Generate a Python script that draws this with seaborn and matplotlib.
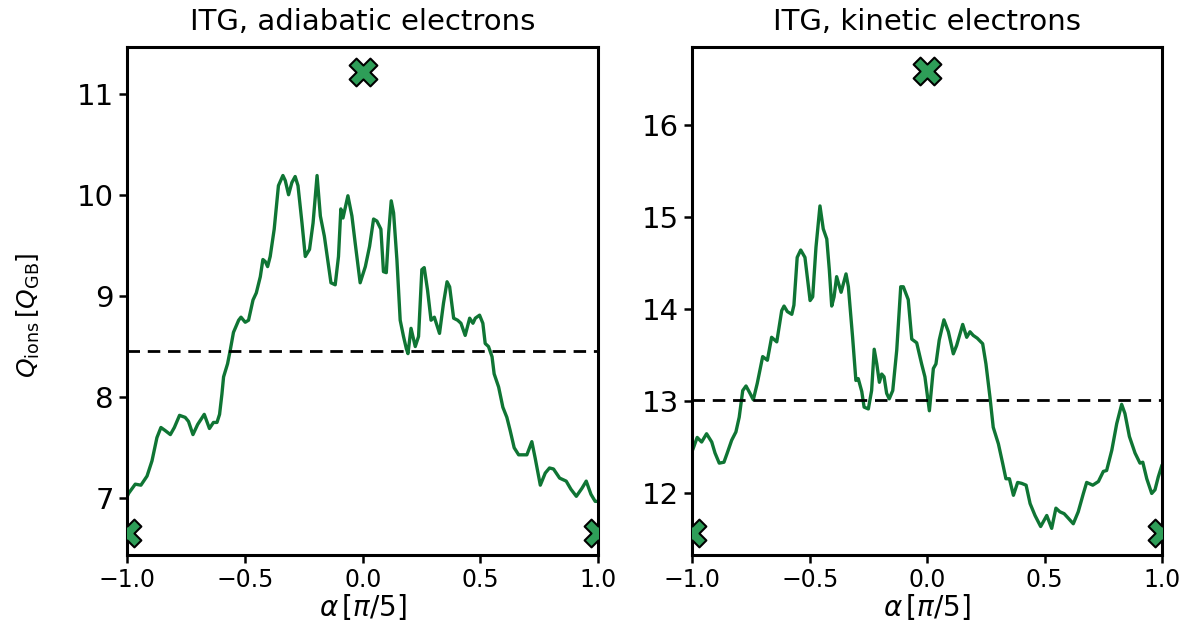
import matplotlib
matplotlib.use("Agg")
import matplotlib.pyplot as plt
import numpy as np
import pandas as pd
import seaborn as sns

# Ion heat flux vs. shift angle alpha (in units of pi/5)
alpha_adiabatic = [
    -1.000, -0.994, -0.966, -0.942, -0.916, -0.895, -0.874, -0.857, -0.839, -0.817,
    -0.800, -0.778, -0.754, -0.740, -0.721, -0.701, -0.673, -0.651, -0.634, -0.619,
    -0.608, -0.598, -0.591, -0.574, -0.563, -0.549, -0.527, -0.517, -0.499, -0.485,
    -0.466, -0.452, -0.435, -0.424, -0.414, -0.404, -0.393, -0.376, -0.358, -0.339,
    -0.329, -0.315, -0.301, -0.287, -0.275, -0.258, -0.244, -0.226, -0.211, -0.194,
    -0.180, -0.163, -0.149, -0.135, -0.117, -0.103, -0.093, -0.084, -0.063, -0.046,
    -0.032, -0.011, 0.011, 0.029, 0.046, 0.060, 0.077, 0.088, 0.100, 0.110,
    0.121, 0.131, 0.145, 0.159, 0.173, 0.185, 0.192, 0.205, 0.223, 0.237,
    0.251, 0.261, 0.275, 0.290, 0.304, 0.326, 0.343, 0.358, 0.369, 0.386,
    0.403, 0.417, 0.435, 0.454, 0.468, 0.478, 0.496, 0.510, 0.520, 0.534,
    0.549, 0.558, 0.577, 0.595, 0.612, 0.626, 0.643, 0.662, 0.683, 0.697,
    0.718, 0.732, 0.754, 0.775, 0.793, 0.810, 0.836, 0.864, 0.884, 0.907,
    0.931, 0.949, 0.969, 0.987, 1.000,
]
q_adiabatic = [
    7.02, 7.05, 7.14, 7.13, 7.22, 7.37, 7.60, 7.70, 7.67, 7.63,
    7.70, 7.82, 7.80, 7.76, 7.63, 7.73, 7.83, 7.69, 7.75, 7.75,
    7.83, 8.03, 8.20, 8.33, 8.46, 8.64, 8.76, 8.79, 8.74, 8.76,
    8.96, 9.03, 9.19, 9.36, 9.34, 9.29, 9.39, 9.66, 10.09, 10.19,
    10.14, 10.00, 10.12, 10.18, 10.09, 9.72, 9.39, 9.46, 9.72, 10.19,
    9.79, 9.59, 9.36, 9.13, 9.11, 9.39, 9.86, 9.77, 9.99, 9.79,
    9.52, 9.13, 9.29, 9.49, 9.76, 9.74, 9.66, 9.24, 9.23, 9.62,
    9.94, 9.82, 9.36, 8.76, 8.60, 8.48, 8.43, 8.68, 8.50, 8.60,
    9.26, 9.28, 9.06, 8.76, 8.79, 8.63, 8.93, 9.14, 9.09, 8.78,
    8.76, 8.73, 8.61, 8.78, 8.73, 8.78, 8.81, 8.73, 8.53, 8.50,
    8.40, 8.23, 8.10, 7.90, 7.80, 7.67, 7.50, 7.43, 7.43, 7.43,
    7.56, 7.40, 7.13, 7.25, 7.30, 7.29, 7.20, 7.17, 7.09, 7.02,
    7.10, 7.17, 7.04, 6.97, 6.97,
]
mean_adiabatic = 8.46
marker_adiabatic_alpha = [0.0, -1.0, 1.0]
marker_adiabatic_q = [11.21, 6.66, 6.66]

alpha_kinetic = [
    -1.000, -0.997, -0.980, -0.961, -0.940, -0.918, -0.904, -0.886, -0.866, -0.852,
    -0.833, -0.815, -0.801, -0.786, -0.772, -0.755, -0.741, -0.724, -0.701, -0.681,
    -0.663, -0.641, -0.620, -0.610, -0.596, -0.577, -0.568, -0.554, -0.539, -0.521,
    -0.499, -0.488, -0.474, -0.457, -0.443, -0.428, -0.417, -0.407, -0.397, -0.386,
    -0.367, -0.346, -0.336, -0.318, -0.304, -0.294, -0.279, -0.269, -0.251, -0.237,
    -0.226, -0.215, -0.204, -0.194, -0.184, -0.173, -0.162, -0.147, -0.130, -0.113,
    -0.102, -0.081, -0.066, -0.045, -0.024, -0.010, 0.009, 0.026, 0.037, 0.051,
    0.071, 0.090, 0.111, 0.125, 0.151, 0.168, 0.182, 0.196, 0.213, 0.236,
    0.250, 0.267, 0.281, 0.303, 0.321, 0.335, 0.350, 0.367, 0.385, 0.402,
    0.421, 0.438, 0.459, 0.483, 0.509, 0.530, 0.548, 0.565, 0.583, 0.601,
    0.622, 0.643, 0.665, 0.679, 0.705, 0.729, 0.750, 0.764, 0.786, 0.807,
    0.828, 0.842, 0.861, 0.885, 0.906, 0.918, 0.935, 0.956, 0.970, 0.984,
    1.000,
]
q_kinetic = [
    12.46, 12.48, 12.60, 12.55, 12.64, 12.55, 12.43, 12.32, 12.33, 12.43,
    12.57, 12.66, 12.82, 13.11, 13.16, 13.08, 13.01, 13.19, 13.48, 13.44,
    13.69, 13.64, 13.98, 14.03, 13.97, 13.94, 14.04, 14.56, 14.64, 14.56,
    14.09, 14.13, 14.67, 15.12, 14.87, 14.76, 14.42, 14.03, 14.13, 14.35,
    14.18, 14.38, 14.24, 13.69, 13.22, 13.24, 13.10, 12.93, 12.91, 13.11,
    13.56, 13.40, 13.20, 13.29, 13.26, 13.08, 13.02, 13.11, 13.55, 14.24,
    14.24, 14.10, 13.67, 13.63, 13.40, 13.26, 12.89, 13.35, 13.40, 13.66,
    13.88, 13.75, 13.51, 13.60, 13.83, 13.69, 13.75, 13.71, 13.68, 13.62,
    13.40, 13.04, 12.71, 12.53, 12.32, 12.15, 12.15, 11.97, 12.11, 12.10,
    12.08, 11.88, 11.75, 11.63, 11.75, 11.61, 11.83, 11.79, 11.77, 11.72,
    11.66, 11.79, 11.99, 12.11, 12.08, 12.12, 12.23, 12.24, 12.46, 12.75,
    12.96, 12.86, 12.61, 12.43, 12.32, 12.33, 12.15, 11.99, 12.03, 12.17,
    12.30,
]
mean_kinetic = 13.01
marker_kinetic_alpha = [0.0, -1.0, 1.0]
marker_kinetic_q = [16.59, 11.56, 11.56]

titles = ["ITG, adiabatic electrons", "ITG, kinetic electrons"]
ylims = [(6.44, 11.46), (11.32, 16.85)]
yticks = [[7, 8, 9, 10, 11], [12, 13, 14, 15, 16]]
xticks = [-1.0, -0.5, 0.0, 0.5, 1.0]
xticklabels = ["\u22121.0", "\u22120.5", "0.0", "0.5", "1.0"]

line_color = "#0f7534"
marker_color = "#2e9e58"

sns.set_style("ticks")
plt.rcParams["font.family"] = ["DejaVu Sans"]
plt.rcParams["mathtext.fontset"] = "dejavusans"
plt.rcParams["text.color"] = "black"
plt.rcParams["axes.labelcolor"] = "black"

fig = plt.figure(figsize=(11.96, 6.25), dpi=100)
ax_l = fig.add_axes([0.1064, 0.112, 0.3938, 0.8128])
ax_r = fig.add_axes([0.5790, 0.112, 0.3926, 0.8128])

panels = [
    (ax_l, alpha_adiabatic, q_adiabatic, mean_adiabatic,
     marker_adiabatic_alpha, marker_adiabatic_q),
    (ax_r, alpha_kinetic, q_kinetic, mean_kinetic,
     marker_kinetic_alpha, marker_kinetic_q),
]

for i, (ax, a, q, qmean, ma, mq) in enumerate(panels):
    df = pd.DataFrame({"alpha": a, "Q": q})
    sns.lineplot(data=df, x="alpha", y="Q", ax=ax, color=line_color,
                 linewidth=2.4, estimator=None, sort=False)
    ax.axhline(qmean, color="black", linestyle=(0, (4.5, 2.8)), linewidth=2.0)
    dm = pd.DataFrame({"alpha": ma, "Q": mq})
    sns.scatterplot(data=dm, x="alpha", y="Q", ax=ax, marker="X", s=400,
                    color=marker_color, edgecolor="black", linewidth=1.5,
                    zorder=5)
    ax.set_xlim(-1.0, 1.0)
    ax.set_ylim(*ylims[i])
    ax.set_xticks(xticks)
    ax.set_xticklabels(xticklabels)
    ax.set_yticks(yticks[i])
    ax.tick_params(axis="both", length=6, width=1.8, direction="out",
                   color="black", labelcolor="black")
    ax.tick_params(axis="x", labelsize=17)
    ax.tick_params(axis="y", labelsize=21)
    for sp in ax.spines.values():
        sp.set_visible(True)
        sp.set_linewidth(2.2)
        sp.set_color("black")
    ax.set_title(titles[i], fontsize=21, pad=12, color="black")
    ax.set_xlabel(r"$\alpha\,[\pi/5]$", fontsize=20, labelpad=0)
    ax.set_ylabel("")

ax_l.set_ylabel(r"$Q_\mathrm{ions}\,[Q_\mathrm{GB}]$", fontsize=18)
ax_l.yaxis.set_label_coords(-0.18, 0.472)

fig.savefig("out.png", dpi=100)
